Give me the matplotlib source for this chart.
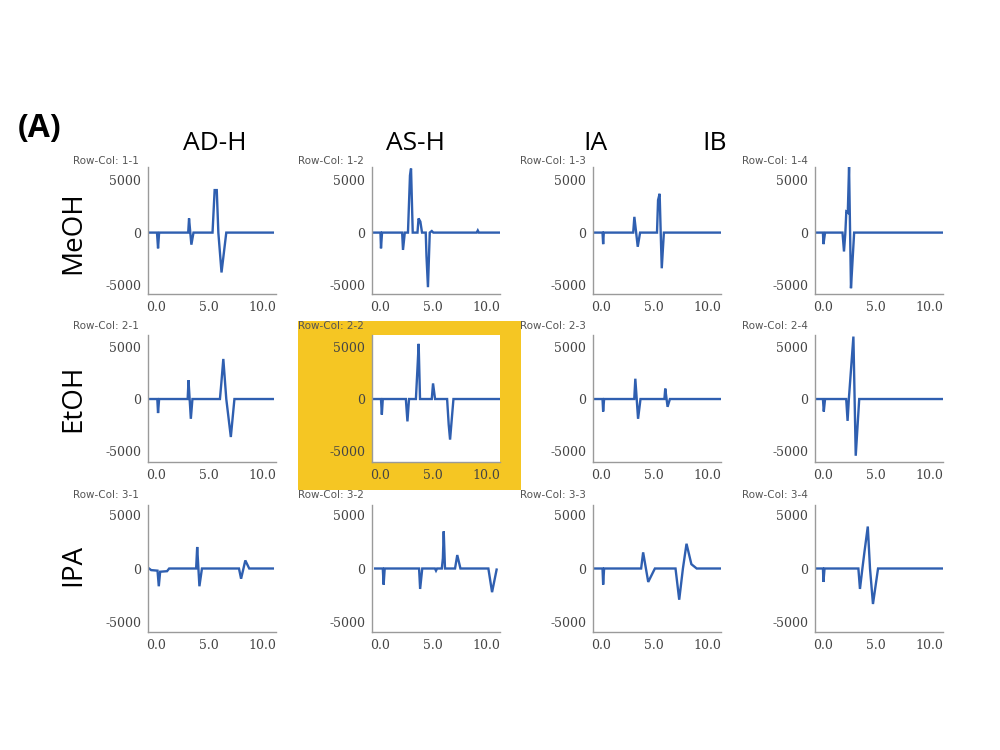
import matplotlib
matplotlib.use("Agg")
import matplotlib.pyplot as plt
from matplotlib.patches import Rectangle

# chromatogram traces, (time, signal) keypoints
t11 = [-0.7, 0.05, 0.15, 0.25, 3.0, 3.08, 3.3, 3.5, 5.3, 5.5, 5.7, 5.85, 6.15, 6.6, 11.0]
v11 = [0, 0, -1500, 0, 0, 1350, -1150, 0, 0, 4050, 4050, 0, -3800, 0, 0]

t12 = [-0.8, 0.0, 0.05, 0.15, 2.05, 2.13, 2.3, 2.6, 2.79, 2.89, 3.05, 3.5, 3.6, 3.77, 3.93,
       4.28, 4.35, 4.49, 4.66, 4.85, 5.0, 9.1, 9.2, 9.3, 11.6]
v12 = [0, 0, -1500, 0, 0, -1650, 0, 0, 5450, 6100, 0, 0, 1350, 1050, 0,
       0, -2250, -5200, 0, 150, 0, 0, 200, 0, 0]

t13 = [-0.7, 0.1, 0.16, 0.22, 3.0, 3.11, 3.43, 3.65, 5.25, 5.35, 5.5, 5.6, 5.7, 5.9, 11.2]
v13 = [0, 0, -1100, 0, 0, 1500, -1350, 0, 0, 3100, 3700, 0, -3400, 0, 0]

t14 = [-0.8, -0.05, 0.0, 0.15, 1.8, 1.94, 2.07, 2.16, 2.3, 2.42, 2.6, 2.72, 2.9, 11.2]
v14 = [0, 0, -1100, 0, 0, -1800, 0, 2000, 1900, 6300, -5300, -3200, 0, 0]

t21 = [-0.7, 0.08, 0.15, 0.25, 2.95, 3.03, 3.25, 3.4, 6.0, 6.13, 6.32, 6.6, 7.03, 7.37, 11.0]
v21 = [0, 0, -1350, 0, 0, 1800, -1900, 0, 0, 1500, 3850, 0, -3650, 0, 0]

t22 = [-0.75, 0.05, 0.13, 0.22, 2.4, 2.55, 2.7, 3.35, 3.52, 3.61, 3.74, 4.85, 4.97, 5.16,
       6.3, 6.45, 6.58, 6.9, 11.3]
v22 = [0, 0, -1500, 0, 0, -2150, 0, 0, 3400, 5300, 0, 0, 1500, 0,
       0, -2450, -3900, 0, 0]

t23 = [-0.8, 0.1, 0.16, 0.25, 3.1, 3.2, 3.46, 3.69, 5.95, 6.03, 6.25, 6.47, 11.2]
v23 = [0, 0, -1200, 0, 0, 1950, -1900, 0, 0, 1000, -750, 0, 0]

t24 = [-0.8, -0.05, 0.03, 0.15, 2.15, 2.28, 2.4, 2.54, 2.83, 3.05, 3.38, 11.2]
v24 = [0, 0, -1200, 0, 0, -2100, 0, 1950, 6000, -5450, 0, 0]

t31 = [-0.7, -0.5, 0.1, 0.22, 0.35, 1.0, 1.2, 3.75, 3.85, 4.06, 4.3, 7.8, 8.0, 8.4, 8.77, 11.0]
v31 = [0, -150, -200, -1650, -300, -250, 0, 0, 2000, -1650, 0, 0, -950, 750, 0, 0]

t32 = [-0.5, 0.22, 0.3, 0.4, 3.65, 3.75, 3.95, 5.15, 5.25, 5.35, 5.8, 5.9, 5.98, 6.1, 7.05,
       7.26, 7.56, 10.2, 10.55, 10.98]
v32 = [0, 0, -1500, 0, 0, -1900, 0, 0, -200, 0, 0, 950, 3450, 0, 0,
       1250, 0, 0, -2200, -100]

t33 = [-0.7, 0.1, 0.16, 0.25, 3.75, 3.94, 4.42, 5.05, 7.0, 7.35, 7.7, 8.04, 8.5, 9.0, 11.2]
v33 = [0, 0, -1500, 0, 0, 1500, -1250, 0, 0, -2900, 0, 2300, 400, 0, 0]

t34 = [-0.8, -0.05, 0.0, 0.1, 3.3, 3.45, 3.68, 3.87, 4.19, 4.4, 4.68, 5.16, 11.2]
v34 = [0, 0, -1250, 0, 0, -1900, 0, 1500, 3900, 0, -3300, 0, 0]

columns = ["AD-H", "AS-H", "IA", "IB"]
solvents = ["MeOH", "EtOH", "IPA"]
xticks = [0, 5, 10]
xticklabels = ["0.0", "5.0", "10.0"]
yticks = [-5000, 0, 5000]

traces = [[(t11, v11), (t12, v12), (t13, v13), (t14, v14)],
          [(t21, v21), (t22, v22), (t23, v23), (t24, v24)],
          [(t31, v31), (t32, v32), (t33, v33), (t34, v34)]]

W, H = 1000, 750
fig = plt.figure(figsize=(10, 7.5), dpi=100)

# pixel layout of the grid
col_left = [148, 372, 593, 815]
row_top = [167, 335, 505]
ax_w, ax_h = 128, 127
ylims = [(-5850, 6250), (-6050, 6150), (-5900, 5900)]
label_x = [73, 298, 520, 742]
label_y = [161, 326, 495]

# highlighted panel background
fig.add_artist(Rectangle((298 / W, 1 - 490 / H), (521 - 298) / W, (490 - 321) / H,
                         transform=fig.transFigure, facecolor="#f5c623",
                         edgecolor="none", zorder=-1))

for r in range(3):
    for c in range(4):
        ax = fig.add_axes([col_left[c] / W, 1 - (row_top[r] + ax_h) / H, ax_w / W, ax_h / H])
        t, v = traces[r][c]
        ax.plot(t, v, color="#2f5fb0", linewidth=1.7, solid_joinstyle="miter")
        ax.set_xlim(-0.8, 11.3)
        ax.set_ylim(*ylims[r])
        ax.set_xticks(xticks)
        ax.set_xticklabels(xticklabels)
        ax.set_yticks(yticks)
        ax.set_yticklabels(["-5000", "0", "5000"])
        for s in ["top", "right"]:
            ax.spines[s].set_visible(False)
        for s in ["left", "bottom"]:
            ax.spines[s].set_color("#9a9a9a")
            ax.spines[s].set_linewidth(1.0)
        ax.tick_params(length=0, pad=5, labelsize=9, labelcolor="#444444")
        for lab in ax.get_xticklabels() + ax.get_yticklabels():
            lab.set_family("DejaVu Serif")
        fig.text(label_x[c] / W, 1 - label_y[r] / H, f"Row-Col: {r + 1}-{c + 1}",
                 fontsize=7.5, color="#555555", ha="left", va="center")

# column headers
for name, x in zip(columns, [215, 415, 595, 715]):
    fig.text(x / W, 1 - 143 / H, name, fontsize=19, family="Open Sans",
             ha="center", va="center")

# row labels
for name, y in zip(solvents, [233, 398, 565]):
    fig.text(73 / W, 1 - y / H, name, fontsize=20, family="Open Sans",
             rotation=90, ha="center", va="center")

fig.text(18 / W, 1 - 128 / H, "(A)", fontsize=23, fontweight="bold",
         family="Open Sans", ha="left", va="center")

fig.savefig("out.png", dpi=100)
